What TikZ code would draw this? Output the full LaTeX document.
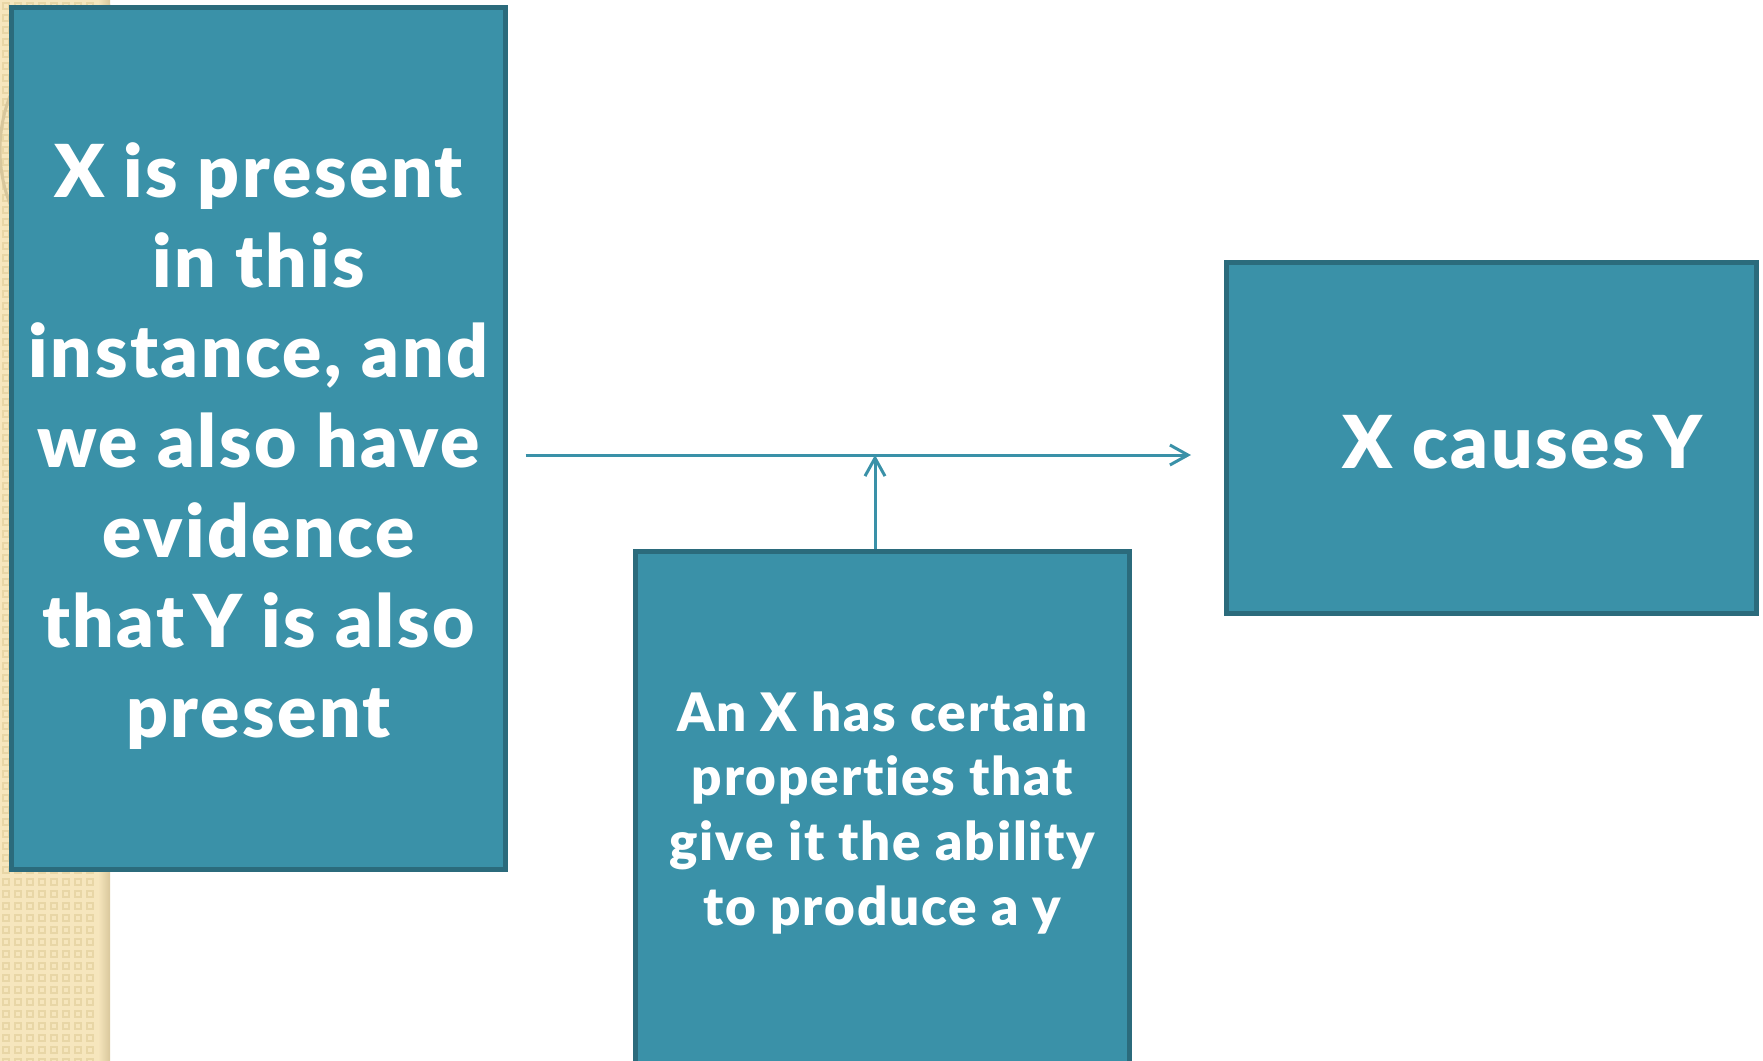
\documentclass[tikz,border=0pt]{standalone}
\usepackage{fontspec}
\setmainfont{Lato}[BoldFont={Lato Black}, Ligatures=NoCommon]
\usetikzlibrary{arrows.meta,positioning}

\definecolor{tealfill}{HTML}{3A91A8}
\definecolor{tealedge}{HTML}{2B6B7C}
\definecolor{sandbase}{HTML}{F6E6BD}
\definecolor{sanddot}{HTML}{E8D6A6}
\definecolor{sandring}{HTML}{D8C79C}

\begin{document}
\begin{tikzpicture}[
    x=0.5pt, y=-0.5pt,
    box/.style={rectangle, draw=tealedge, fill=tealfill, line width=2.5pt, inner sep=0pt, text=white, align=center},
    arr/.style={draw=tealfill, line width=1.5pt, -{Straight Barb[length=9pt, width=10pt, line width=1.5pt]}}
]
    \useasboundingbox (0,0) rectangle (1763,1061);
    % sand strip on the left
    \fill[sandbase] (0,0) rectangle (110,1061);
    \foreach \i in {0,...,8}
        \foreach \j in {0,...,88}
            \draw[sanddot, line width=0.7pt] (\i*12+3,\j*12+3) rectangle ++(6,6);
    \begin{scope}
        \clip (0,0) rectangle (110,1061);
        \draw[sandring, line width=1.5pt] (150,150) circle (150);
        \draw[white!60!sandbase, line width=4pt] (150,150) circle (118);
    \end{scope}
    \shade[left color=sandbase, right color=sandring] (98,0) rectangle (110,1061);

    \node[box, minimum width=247pt, minimum height=431pt, font=\bfseries\fontsize{36.5}{45}\selectfont\addfontfeatures{LetterSpace=3.5}] (cause) at (258.5,438.5)
        {\mbox{}\\[-10pt]X is present\\in this\\instance, and\\we also have\\evidence\\that\hspace{0.12em}Y is also\\present};
    \node[box, minimum width=265pt, minimum height=175.5pt, font=\bfseries\fontsize{36.5}{45}\selectfont\addfontfeatures{LetterSpace=3.5}] (effect) at (1491.5,438)
        {\mbox{}\\[-14.6pt]\hspace*{31pt}X causes\hspace{0.12em}Y};
    \node[box, minimum width=247pt, minimum height=256pt, font=\bfseries\fontsize{26.5}{32.3}\selectfont\addfontfeatures{LetterSpace=3.5}] (props) at (882.5,807.5)
        {\mbox{}\\[-7.3pt]An X has certain\\properties that\\give it the ability\\to produce a y};

    \coordinate (join) at (875,455);
    \draw[arr, shorten <=8.75pt, shorten >=16.5pt] (cause.east |- join) -- (effect.west |- join);
    \draw[arr] (props.north -| join) -- (join);
\end{tikzpicture}
\end{document}
